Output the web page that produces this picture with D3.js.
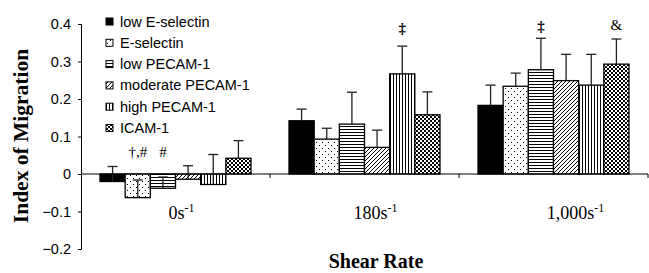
<!DOCTYPE html>
<html>
<head>
<meta charset="utf-8">
<script src="https://cdn.jsdelivr.net/npm/d3@7"></script>
<style>
  body { margin: 0; background: #fff; }
  svg { display: block; }
</style>
</head>
<body>
<div id="chart"></div>
<script>
// Data
const categories = ['0', '180', '1,000'];
const seriesNames = ['low E-selectin', 'E-selectin', 'low PECAM-1', 'moderate PECAM-1', 'high PECAM-1', 'ICAM-1'];
const patternIds = ['solid', 'dots', 'hlines', 'diag', 'vlines', 'checker'];

const values = [
    [-0.02, -0.063, -0.038, -0.014, -0.028, 0.042],
    [0.142, 0.093, 0.133, 0.071, 0.267, 0.158],
    [0.183, 0.234, 0.278, 0.249, 0.237, 0.293]
];
const errors = [
    [0.040, 0.047, 0.030, 0.036, 0.080, 0.047],
    [0.031, 0.029, 0.085, 0.046, 0.074, 0.061],
    [0.054, 0.035, 0.084, 0.070, 0.082, 0.067]
];
const yTicks = [-0.2, -0.1, 0, 0.1, 0.2, 0.3, 0.4];
// significance marks: [category, series, text, level (index units)]
const marks = [
    [0, 1, '\u2020,#', 0.045],
    [0, 2, '#', 0.045],
    [1, 4, '\u2021', 0.376],
    [2, 2, '\u2021', 0.381],
    [2, 5, '&', 0.384]
];

const width = 649, height = 273;
const margin = { left: 81, right: 1, top: 24, bottom: 24 };
const serif = 'Liberation Serif, Times New Roman, serif';
const sans = 'Liberation Sans, Arial, sans-serif';

const svg = d3.select('#chart').append('svg')
    .attr('width', width)
    .attr('height', height);

// Fill patterns
const defs = svg.append('defs');
function pattern(id, w, h) {
    const p = defs.append('pattern')
        .attr('id', id)
        .attr('patternUnits', 'userSpaceOnUse')
        .attr('width', w)
        .attr('height', h);
    p.append('rect').attr('width', w).attr('height', h).attr('fill', '#fff');
    return p;
}
const dt = pattern('dots', 6, 6);
dt.append('rect').attr('x', 1).attr('y', 1).attr('width', 1).attr('height', 1).attr('fill', '#000');
dt.append('rect').attr('x', 4).attr('y', 4).attr('width', 1).attr('height', 1).attr('fill', '#000');
pattern('hlines', 4, 3).append('rect')
    .attr('x', 0).attr('y', 0).attr('width', 4).attr('height', 1).attr('fill', '#000');
pattern('vlines', 3, 4).append('rect')
    .attr('x', 0).attr('y', 0).attr('width', 1).attr('height', 4).attr('fill', '#000');
pattern('diag', 4, 4).append('path')
    .attr('d', 'M-1,1 L1,-1 M0,4 L4,0 M3,5 L5,3')
    .attr('stroke', '#000').attr('stroke-width', 1);
const ck = pattern('checker', 4, 4);
ck.append('rect').attr('x', 0).attr('y', 0).attr('width', 2).attr('height', 2).attr('fill', '#000');
ck.append('rect').attr('x', 2).attr('y', 2).attr('width', 2).attr('height', 2).attr('fill', '#000');

function fillOf(i) {
    return patternIds[i] === 'solid' ? '#000' : `url(#${patternIds[i]})`;
}

const y = d3.scaleLinear().domain([-0.2, 0.4]).range([249, 24]);
const x0 = d3.scaleBand().domain(d3.range(categories.length))
    .range([margin.left, 648]).padding(0);
const x1 = d3.scaleBand().domain(d3.range(seriesNames.length))
    .range([19, x0.bandwidth() - 19]).padding(0);

// Y axis
const yAxis = svg.append('g')
    .attr('transform', `translate(${margin.left},0)`)
    .call(d3.axisLeft(y).tickValues(yTicks).tickSize(3)
        .tickFormat(d => d === 0 ? '0' : d3.format('.1f')(d)));
yAxis.select('.domain').attr('stroke', '#000');
yAxis.selectAll('line').attr('stroke', '#000');
yAxis.selectAll('text')
    .attr('font-family', sans)
    .attr('font-size', 14.5)
    .attr('fill', '#000')
    .attr('x', -10);

// Bars
const groups = svg.append('g').selectAll('g')
    .data(values)
    .join('g')
    .attr('transform', (d, i) => `translate(${x0(i)},0)`);

groups.selectAll('rect')
    .data(d => d)
    .join('rect')
    .attr('x', (d, i) => x1(i))
    .attr('width', x1.bandwidth())
    .attr('y', d => y(Math.max(0, d)))
    .attr('height', d => Math.abs(y(d) - y(0)))
    .attr('fill', (d, i) => fillOf(i))
    .attr('stroke', '#000')
    .attr('stroke-width', 1.3);

// Error bars (plus direction)
groups.each(function (vals, ci) {
    const g = d3.select(this);
    vals.forEach((v, si) => {
        const cx = x1(si) + x1.bandwidth() / 2;
        const top = y(v + errors[ci][si]);
        g.append('line')
            .attr('x1', cx).attr('x2', cx)
            .attr('y1', y(v)).attr('y2', top)
            .attr('stroke', '#222').attr('stroke-width', 1.3);
        g.append('line')
            .attr('x1', cx - 5).attr('x2', cx + 5)
            .attr('y1', top).attr('y2', top)
            .attr('stroke', '#222').attr('stroke-width', 1.3);
    });
});

// X axis at zero
svg.append('line')
    .attr('x1', margin.left).attr('x2', 648)
    .attr('y1', y(0)).attr('y2', y(0))
    .attr('stroke', '#000');
categories.forEach((c, i) => {
    const xt = x0(i) + x0.bandwidth();
    svg.append('line')
        .attr('x1', xt).attr('x2', xt)
        .attr('y1', y(0)).attr('y2', y(0) + 4)
        .attr('stroke', '#000');
});

// Category labels (slightly right of group centres, as in the source)
const labelShift = [6, 11, 22];
const catLabels = svg.append('g').selectAll('text')
    .data(categories)
    .join('text')
    .attr('x', (d, i) => x0(i) + x0.bandwidth() / 2 + labelShift[i])
    .attr('y', 219)
    .attr('text-anchor', 'middle')
    .attr('font-family', serif)
    .attr('font-size', 18)
    .attr('fill', '#000');
catLabels.append('tspan').text(d => d + 's');
catLabels.append('tspan')
    .attr('dy', -7)
    .attr('font-size', 12)
    .text('-1');

// Significance marks
marks.forEach(([ci, si, t, level]) => {
    svg.append('text')
        .attr('x', x0(ci) + x1(si) + x1.bandwidth() / 2)
        .attr('y', y(level))
        .attr('text-anchor', 'middle')
        .attr('font-family', serif)
        .attr('font-weight', t === '\u2021' ? 'bold' : 'normal')
        .attr('font-size', 15)
        .attr('fill', '#000')
        .text(t);
});

// Legend
const legend = svg.append('g').attr('transform', 'translate(106,0)');
seriesNames.forEach((name, i) => {
    const ly = 21.5 + i * 21.3;
    legend.append('rect')
        .attr('x', 0).attr('y', ly - 3.5)
        .attr('width', 7).attr('height', 7)
        .attr('fill', fillOf(i))
        .attr('stroke', '#000');
    legend.append('text')
        .attr('x', 14).attr('y', ly + 5)
        .attr('font-family', sans)
        .attr('font-size', 14.5)
        .attr('fill', '#000')
        .text(name);
});

// Axis titles
svg.append('text')
    .attr('transform', 'translate(28,136) rotate(-90)')
    .attr('text-anchor', 'middle')
    .attr('font-family', serif)
    .attr('font-weight', 'bold')
    .attr('font-size', 21.5)
    .attr('fill', '#000')
    .text('Index of Migration');

svg.append('text')
    .attr('x', 376).attr('y', 268)
    .attr('text-anchor', 'middle')
    .attr('font-family', serif)
    .attr('font-weight', 'bold')
    .attr('font-size', 20)
    .attr('fill', '#000')
    .text('Shear Rate');
</script>
</body>
</html>
